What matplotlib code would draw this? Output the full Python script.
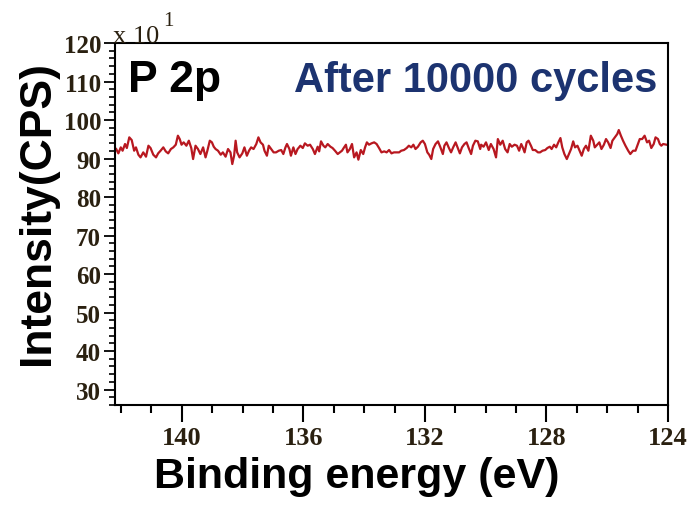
import matplotlib.pyplot as plt
from matplotlib.ticker import MultipleLocator

# XPS P 2p region after 10000 cycles, intensity in units of 10 CPS
energy = [
    142.16, 142.09, 142.01, 141.95, 141.87, 141.81, 141.73, 141.65, 141.57, 141.51,
    141.43, 141.36, 141.27, 141.18, 141.10, 141.03, 140.94, 140.85, 140.78, 140.70,
    140.61, 140.53, 140.45, 140.36, 140.28, 140.20, 140.13, 140.07, 140.01, 139.94,
    139.85, 139.77, 139.69, 139.63, 139.55, 139.47, 139.39, 139.30, 139.22, 139.16,
    139.08, 139.01, 138.95, 138.89, 138.81, 138.72, 138.65, 138.56, 138.48, 138.40,
    138.34, 138.28, 138.23, 138.18, 138.10, 138.01, 137.94, 137.86, 137.79, 137.72,
    137.64, 137.55, 137.48, 137.41, 137.33, 137.28, 137.20, 137.14, 137.06, 136.98,
    136.90, 136.81, 136.73, 136.66, 136.59, 136.54, 136.46, 136.41, 136.33, 136.26,
    136.19,
    136.16, 136.10, 136.02, 135.95, 135.86, 135.78, 135.69, 135.62, 135.53, 135.48,
    135.42, 135.34, 135.28, 135.20, 135.11, 135.04, 134.96, 134.87, 134.80, 134.73,
    134.66, 134.60, 134.55, 134.47, 134.40, 134.33, 134.25, 134.19, 134.11, 134.03,
    133.97, 133.91, 133.84, 133.76, 133.67, 133.59, 133.51, 133.43, 133.34, 133.26,
    133.18, 133.10, 133.02, 132.93, 132.85, 132.78, 132.69, 132.60, 132.53, 132.45,
    132.38, 132.31, 132.23, 132.14, 132.07, 132.00, 131.92, 131.86, 131.79, 131.73,
    131.65, 131.57, 131.49, 131.41, 131.36, 131.29, 131.21, 131.14, 131.07, 130.99,
    130.92, 130.85, 130.78, 130.70, 130.63, 130.56, 130.48, 130.42, 130.34, 130.26,
    130.18,
    130.15, 130.07, 129.99, 129.90, 129.83, 129.74, 129.66, 129.60, 129.52, 129.44,
    129.36, 129.28, 129.21, 129.14, 129.05, 128.97, 128.90, 128.83, 128.78, 128.72,
    128.65, 128.59, 128.51, 128.45, 128.37, 128.28, 128.21, 128.13, 128.04, 127.97,
    127.89, 127.83, 127.75, 127.68, 127.61, 127.54, 127.48, 127.41, 127.33, 127.26,
    127.19, 127.12, 127.06, 126.98, 126.92, 126.84, 126.77, 126.70, 126.62, 126.54,
    126.46, 126.41, 126.33, 126.26, 126.19, 126.11, 126.04, 125.97, 125.89, 125.83,
    125.75, 125.67, 125.62, 125.55, 125.48, 125.40, 125.31, 125.24, 125.15, 125.07,
    125.01, 124.93, 124.85, 124.77, 124.69, 124.62, 124.55, 124.47, 124.41, 124.33,
    124.27, 124.22, 124.16, 124.05,
]
intensity = [
    92.47, 91.34, 92.90, 92.03, 93.77, 92.73, 95.50, 94.80, 92.03, 92.90,
    90.99, 90.30, 91.60, 90.48, 93.33, 92.73, 90.99, 90.30, 91.34, 92.03,
    92.90, 91.86, 91.34, 92.47, 92.90, 93.59, 95.93, 95.06, 93.59, 94.20,
    93.33, 94.63, 92.73, 89.87, 93.33, 92.47, 91.17, 92.90, 90.30, 92.03,
    94.63, 94.20, 93.07, 92.47, 92.03, 90.99, 91.60, 90.48, 92.47, 91.60,
    88.57, 90.73, 94.63, 91.60, 90.30, 91.34, 92.90, 90.73, 92.03, 92.90,
    92.47, 93.77, 95.50, 94.20, 93.59, 92.03, 90.73, 93.33, 92.47, 91.60,
    91.60, 92.03, 92.21, 91.17, 92.90, 93.77, 92.47, 90.73, 92.90, 91.17,
    92.47,
    92.73, 93.33, 92.73, 93.94, 93.33, 93.59, 92.47, 91.17, 93.07, 91.86,
    94.46, 93.33, 92.90, 93.77, 93.07, 92.73, 92.03, 91.17, 91.60, 92.03,
    92.90, 93.59, 91.60, 92.47, 93.77, 90.30, 91.60, 89.70, 92.21, 91.17,
    92.90, 94.20, 93.59, 93.94, 94.20, 93.77, 92.73, 91.60, 91.86, 91.60,
    92.21, 91.34, 91.60, 91.60, 91.60, 92.03, 92.21, 92.73, 93.33, 92.90,
    93.59, 92.47, 93.07, 94.20, 94.63, 93.77, 91.60, 90.99, 89.87, 92.47,
    93.77, 94.46, 92.90, 91.17, 93.33, 94.20, 92.73, 91.60, 92.90, 94.20,
    92.73, 91.34, 92.90, 93.77, 94.20, 92.73, 91.17, 93.33, 94.63, 94.46,
    92.47,
    93.59, 93.07, 94.20, 92.21, 93.77, 92.47, 90.30, 95.06, 93.59, 94.63,
    92.47, 91.60, 93.77, 93.07, 93.59, 93.33, 92.03, 93.77, 92.90, 91.60,
    94.20, 94.63, 93.33, 92.21, 92.21, 91.60, 91.60, 92.03, 92.21, 92.73,
    93.07, 92.47, 93.59, 92.90, 94.20, 95.32, 92.90, 91.17, 89.87, 91.17,
    92.47, 94.46, 92.90, 93.33, 92.21, 90.73, 92.47, 93.33, 92.03, 95.93,
    94.63, 92.90, 93.59, 94.20, 92.47, 93.59, 95.06, 94.20, 92.73, 94.63,
    95.50, 96.36, 97.40, 95.93, 94.63, 93.33, 92.03, 91.17, 92.03, 92.03,
    93.33, 95.06, 95.06, 95.93, 94.20, 94.63, 92.73, 93.77, 95.50, 95.06,
    93.77, 93.33, 93.77, 93.59,
]

x_ticks = [140, 136, 132, 128, 124]
y_ticks = [30, 40, 50, 60, 70, 80, 90, 100, 110, 120]

tick_color = '#2a2010'

fig = plt.figure(figsize=(6.92, 5.06), dpi=100)
ax = fig.add_axes([115 / 692, 1 - 406 / 506, 553 / 692, 362 / 506])

ax.plot(energy, intensity, color='#b81820', linewidth=1.6)

ax.set_xlim(142.2, 124)
ax.set_ylim(26, 120)
ax.set_xticks(x_ticks)
ax.set_yticks(y_ticks)
ax.xaxis.set_minor_locator(MultipleLocator(1))
ax.yaxis.set_minor_locator(MultipleLocator(2))

for s in ax.spines.values():
    s.set_linewidth(1.5)
    s.set_color('black')

ax.tick_params(axis='x', which='major', direction='out', length=12, width=1.5, pad=3)
ax.tick_params(axis='x', which='minor', direction='out', length=6, width=1.5)
ax.tick_params(axis='y', which='major', direction='out', length=8, width=1.3, pad=2)
ax.tick_params(axis='y', which='minor', direction='out', length=4, width=1.2)

for lab in ax.get_xticklabels():
    lab.set_fontfamily('Liberation Serif')
    lab.set_fontweight('bold')
    lab.set_fontsize(19)
    lab.set_color(tick_color)
for lab in ax.get_yticklabels():
    lab.set_fontfamily('Liberation Serif')
    lab.set_fontweight('bold')
    lab.set_fontsize(18)
    lab.set_color(tick_color)

ax.text(-0.004, 0.99, 'x 10', transform=ax.transAxes, ha='left', va='bottom',
        fontsize=19, family='Liberation Serif', color=tick_color)
ax.text(0.088, 1.035, '1', transform=ax.transAxes, ha='left', va='bottom',
        fontsize=15, family='Liberation Serif', color=tick_color)

ax.text(0.024, 0.867, 'P 2p', transform=ax.transAxes, ha='left', va='baseline',
        fontsize=32, fontweight='bold', family='Liberation Sans', color='black')
ax.text(0.98, 0.867, 'After 10000 cycles', transform=ax.transAxes, ha='right',
        va='baseline', fontsize=30, fontweight='bold', family='Liberation Sans',
        color='#1c3370')

fig.text(38 / 692, 1 - 213 / 506, 'Intensity(CPS)', rotation=90, ha='center',
         va='center', fontsize=32, fontweight='bold', family='Liberation Sans')
fig.text(357 / 692, 1 - 488 / 506, 'Binding energy (eV)', ha='center',
         va='baseline', fontsize=31, fontweight='bold', family='Liberation Sans')

fig.savefig('out.png', dpi=100)
